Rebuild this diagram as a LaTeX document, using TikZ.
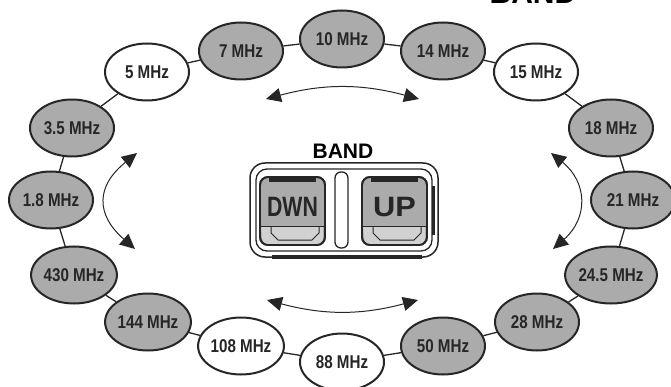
\documentclass[tikz,border=0pt]{standalone}
\usepackage{fontspec}
\setmainfont{Liberation Sans}
\newfontfamily\narrowfont[FakeStretch=0.82]{Liberation Sans}
\usetikzlibrary{arrows.meta,shapes.geometric}
\tikzset{
  band/.style={ellipse, draw=black!85, line width=2pt, fill=black!33,
    minimum width=84pt, minimum height=57pt, inner sep=0pt,
    font=\narrowfont\bfseries\fontsize{18.5}{18.5}\selectfont, text=black!85},
  bandw/.style={band, fill=white},
  lnk/.style={line width=1.3pt, black!85},
  swp/.style={{Triangle[length=15pt,width=14pt]}-{Triangle[length=15pt,width=14pt]}, line width=1pt, black!85},
  keycap/.style={line width=1.8pt, draw=black!85, fill=black!33, rounded corners=8pt},
  keylbl/.style={font=\bfseries\fontsize{28}{28}\selectfont, text=black!85, inner sep=0pt},
}

\begin{document}
\begin{tikzpicture}[x=1pt,y=-1pt]
  \useasboundingbox (0,0) rectangle (671,387);
  \clip (0,0) rectangle (671,387);

  % title, cut off by the page edge
  \node[font=\bfseries\fontsize{30}{30}\selectfont, anchor=base] (title) at (533,3.5) {BAND};

  % band ring
  \node[band]  (f10)   at (342,39)  {10 MHz};
  \node[band]  (f14)   at (443,51)  {14 MHz};
  \node[bandw] (f15)   at (536,72)  {15 MHz};
  \node[band]  (f18)   at (611,128) {18 MHz};
  \node[band]  (f21)   at (633,200) {21 MHz};
  \node[band]  (f24p5) at (611,275) {24.5 MHz};
  \node[band]  (f28)   at (537,322) {28 MHz};
  \node[band]  (f50)   at (443,346) {50 MHz};
  \node[bandw] (f88)   at (342,362) {88 MHz};
  \node[bandw] (f108)  at (241,346) {108 MHz};
  \node[band]  (f144)  at (148,322) {144 MHz};
  \node[band]  (f430)  at (74,275)  {430 MHz};
  \node[band]  (f1p8)  at (51,200)  {1.8 MHz};
  \node[band]  (f3p5)  at (72,128)  {3.5 MHz};
  \node[bandw] (f5)    at (147,72)  {5 MHz};
  \node[band]  (f7)    at (241,51)  {7 MHz};
  \foreach \a/\b in {f10/f14,f14/f15,f15/f18,f18/f21,f21/f24p5,f24p5/f28,f28/f50,f50/f88,
                     f88/f108,f108/f144,f144/f430,f430/f1p8,f1p8/f3p5,f3p5/f5,f5/f7,f7/f10}
    \draw[lnk] (\a) -- (\b);

  % sweep arrows
  \coordinate (tl) at (266,99);  \coordinate (tr) at (419,99);
  \coordinate (bl) at (267,300); \coordinate (br) at (418,300);
  \coordinate (lt) at (137,153); \coordinate (lb) at (135,249);
  \coordinate (rt) at (551,153); \coordinate (rb) at (553,249);
  \draw[swp] (tl) to[bend left=15] (tr);
  \draw[swp] (bl) to[bend right=15] (br);
  \draw[swp] (lt) to[bend right=50, looseness=1.4] (lb);
  \draw[swp] (rt) to[bend left=50, looseness=1.25] (rb);

  % BAND keys
  \node[font=\bfseries\fontsize{21}{21}\selectfont] (bandlbl) at (343,151) {BAND};
  \draw[line width=1.5pt, black!85, rounded corners=15pt] (250,163) rectangle (438,257);
  \draw[line width=1.3pt, black!85, rounded corners=11pt] (256,169) rectangle (432,251);
  \draw[line width=3.5pt, black!85] (272,257) -- (422,257);
  \draw[line width=3pt, black!85] (433,186) -- (433,235);
  \draw[line width=1.3pt, black!85, rounded corners=6pt] (335,172) rectangle (348,248);
  \foreach \kx/\kname/\ktxt/\ks in {260/dwn/DWN/0.76,362/up/UP/1.1}{
    \begin{scope}[xshift=\kx pt]
      \draw[keycap] (0,177) rectangle (65,245);
      \fill[black!18] (1,227) -- (63,227) -- (63,237) [rounded corners=6pt] -- (63,244) -- (2,244) [sharp corners] -- (2,237) -- cycle;
      \draw[line width=1pt, black!85] (1,227) -- (64,227);
      \draw[line width=1pt, black!85] (11,227) -- (11,233) -- (18,240) -- (52,240) -- (59,233) -- (59,227);
      \draw[line width=3.5pt, black!85] (9,180) -- (56,180);
      \draw[keycap, fill=none] (0,177) rectangle (65,245);
      \node[keylbl] (\kname) at (32.5,207) {\scalebox{\ks}[1]{\ktxt}};
    \end{scope}
  }
\end{tikzpicture}
\end{document}
